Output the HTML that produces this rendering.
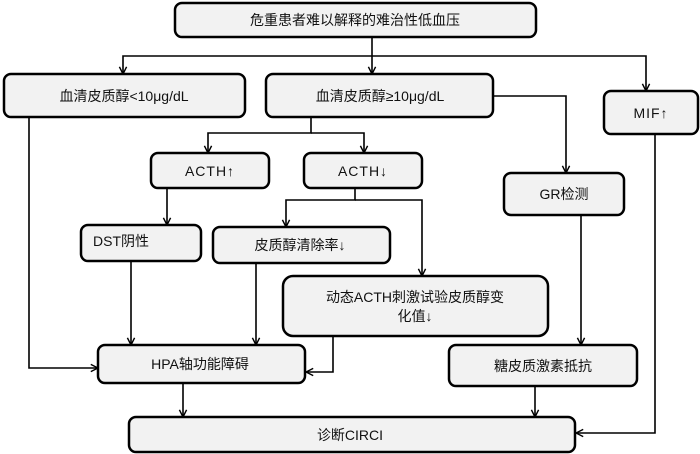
<!DOCTYPE html>
<html><head><meta charset="utf-8"><style>
html,body{margin:0;padding:0;background:#fff;}
svg{display:block;}
text{font-family:"Liberation Sans","Noto Sans CJK SC",sans-serif;font-size:14px;fill:#111;text-anchor:middle;dominant-baseline:central;}
.b{fill:#f2f2f2;stroke:#000;stroke-width:2.5;}
.l{fill:none;stroke:#000;stroke-width:1.6;}
</style></head><body>
<svg width="700" height="454" viewBox="0 0 700 454">
<defs><marker id="a" viewBox="0 0 10 10" refX="9" refY="5" markerWidth="9" markerHeight="9" orient="auto" markerUnits="userSpaceOnUse"><path d="M1,1 L9,5 L1,9" fill="none" stroke="#000" stroke-width="1.6"/></marker></defs>
<g class="l" marker-end="url(#a)">
<path d="M372,37V74"/>
<path d="M372,56H123V74"/>
<path d="M372,56H646V91"/>
<path d="M493,96H566V173"/>
<path d="M311,117V133H208V153"/>
<path d="M311,133H364V153"/>
<path d="M167,188V225"/>
<path d="M355,188V200H286V227"/>
<path d="M355,200H422V276"/>
<path d="M29,117V368H98"/>
<path d="M131,261V345"/>
<path d="M256,263V345"/>
<path d="M333,336V372H306"/>
<path d="M581,215V345"/>
<path d="M655,134V433H576"/>
<path d="M183,383V417"/>
<path d="M535,386V417"/>
</g>
<rect class="b" x="175" y="3" width="361" height="34" rx="7"/><text x="355" y="20">危重患者难以解释的难治性低血压</text>
<rect class="b" x="4" y="74" width="241" height="43" rx="7"/><text x="124" y="96">血清皮质醇&lt;10μg/dL</text>
<rect class="b" x="266" y="74" width="227" height="43" rx="7"/><text x="380" y="96">血清皮质醇≥10μg/dL</text>
<rect class="b" x="604" y="91" width="94" height="43" rx="7"/><text x="651" y="113" letter-spacing="1">MIF↑</text>
<rect class="b" x="151" y="153" width="118" height="35" rx="7"/><text x="210" y="171" letter-spacing="1">ACTH↑</text>
<rect class="b" x="304" y="153" width="118" height="35" rx="7"/><text x="363" y="171" letter-spacing="1">ACTH↓</text>
<rect class="b" x="504" y="173" width="120" height="42" rx="7"/><text x="564" y="194">GR检测</text>
<rect class="b" x="81" y="225" width="120" height="36" rx="7"/><text x="93" y="241" style="text-anchor:start">DST阴性</text>
<rect class="b" x="213" y="227" width="177" height="36" rx="7"/><text x="300" y="245">皮质醇清除率↓</text>
<rect class="b" x="283" y="276" width="265" height="60" rx="10"/><text x="415" y="297">动态ACTH刺激试验皮质醇变</text><text x="415" y="316">化值↓</text>
<rect class="b" x="98" y="345" width="207" height="38" rx="7"/><text x="200" y="364">HPA轴功能障碍</text>
<rect class="b" x="449" y="345" width="188" height="41" rx="7"/><text x="543" y="366">糖皮质激素抵抗</text>
<rect class="b" x="129" y="417" width="446" height="35" rx="7"/><text x="350" y="435">诊断CIRCI</text>
</svg>
</body></html>
